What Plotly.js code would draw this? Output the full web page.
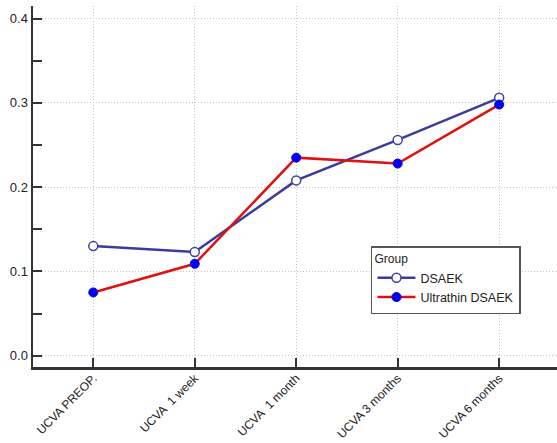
<!DOCTYPE html>
<html>
<head>
<meta charset="utf-8">
<script src="https://cdn.plot.ly/plotly-3.0.1.min.js"></script>
<style>
  html, body { margin: 0; padding: 0; background: #fff; }
  #chart { width: 557px; height: 443px; }
</style>
</head>
<body>
<div id="chart"></div>
<script>
// Follow-up time points
const timepoints = ["UCVA PREOP.", "UCVA  1 week", "UCVA  1 month", "UCVA 3 months", "UCVA 6 months"];

// Mean UCVA per group
const dsaek = [0.130, 0.123, 0.208, 0.256, 0.306];
const ultrathinDsaek = [0.075, 0.109, 0.235, 0.228, 0.298];

const yTicks = [0.0, 0.1, 0.2, 0.3, 0.4];
const yTickText = ["0.0", "0.1", "0.2", "0.3", "0.4"];

const traces = [
  {
    x: timepoints, y: dsaek, name: "DSAEK",
    type: "scatter", mode: "lines+markers",
    line: { color: "#3b3b9d", width: 2.5 },
    marker: { symbol: "circle", size: 9, color: "#ffffff", line: { color: "#4040a8", width: 1.5 } }
  },
  {
    x: timepoints, y: ultrathinDsaek, name: "Ultrathin DSAEK",
    type: "scatter", mode: "lines+markers",
    line: { color: "#e01010", width: 2.5 },
    marker: { symbol: "circle", size: 9, color: "#0000f0", line: { color: "#0000f0", width: 1 } }
  }
];

const gridStyle = { showgrid: true, gridcolor: "#c4c4c4", griddash: "1px,2px", gridwidth: 1 };

const layout = {
  width: 557, height: 443,
  margin: { l: 33, r: 0, t: 6, b: 76 },
  paper_bgcolor: "#ffffff", plot_bgcolor: "#ffffff",
  font: { family: "Liberation Sans, Arial, sans-serif", size: 13, color: "#222" },
  showlegend: true,
  xaxis: Object.assign({
    type: "category",
    range: [-0.594, 4.57],
    tickangle: -45,
    ticks: "inside", ticklen: 9, tickwidth: 2, tickcolor: "#333",
    ticklabelstandoff: -3,
    showline: true, linecolor: "#333", linewidth: 2.5,
    zeroline: false, automargin: false,
    tickfont: { size: 12, color: "#222" }
  }, gridStyle),
  yaxis: Object.assign({
    range: [-0.0135, 0.415],
    tickvals: yTicks, ticktext: yTickText,
    ticks: "inside", ticklen: 9, tickwidth: 2, tickcolor: "#333",
    minor: { dtick: 0.05, tick0: 0, ticks: "inside", ticklen: 9, tickwidth: 2, tickcolor: "#333", showgrid: false },
    showline: true, linecolor: "#333", linewidth: 2.5,
    zeroline: false, automargin: false,
    tickfont: { size: 13, color: "#222" }
  }, gridStyle),
  legend: {
    x: 0.645, y: 0.335, xanchor: "left", yanchor: "top",
    bgcolor: "#ffffff", bordercolor: "#555", borderwidth: 1.5,
    title: { text: "Group", font: { size: 12, color: "#222" } },
    font: { size: 12.5, color: "#222" },
    itemwidth: 38,
    tracegroupgap: 0
  }
};

Plotly.newPlot("chart", traces, layout, { displayModeBar: false, staticPlot: true });
</script>
</body>
</html>
